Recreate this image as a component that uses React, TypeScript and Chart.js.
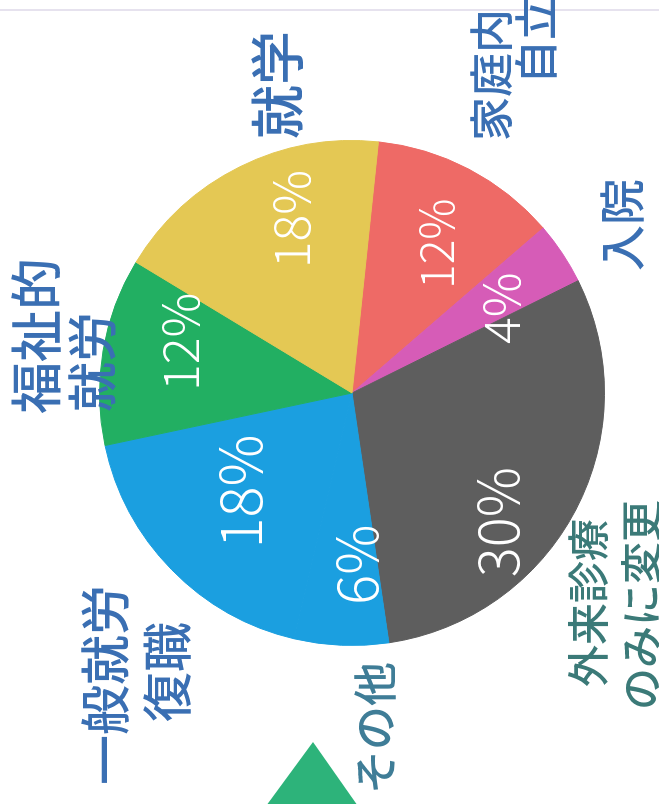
import React, { useEffect, useRef } from "react";
import { Chart, ArcElement, PieController } from "chart.js";

Chart.register(ArcElement, PieController);

// ---- data ----
const categories = ["家庭内自立", "入院", "外来診療のみに変更", "その他", "一般就労・復職", "福祉的就労", "就学"];
const shares = [12, 4, 30, 6, 18, 12, 18];
const sliceColors = ["#EE6A66", "#D65CB7", "#5E5E5E", "#1B9FE0", "#1B9FE0", "#22AF62", "#E4C854"];
const labelLines = [["家庭内", "自立"], ["入院"], ["外来診療", "のみに変更"], ["その他"], ["一般就労", "復職"], ["福祉的", "就労"], ["就学"]];

// ---- layout (unrotated canvas coordinates) ----
const W = 804;
const H = 659;
const startRotation = 96;
const pctNudgeDeg = [2, 4, 14, -4, 3, 7, 7];
const pctRadiusFrac = [0.68, 0.68, 0.77, 0.68, 0.59, 0.71, 0.73];
const pctFontSize = [46, 50, 56, 56, 58, 50, 50];
const labelPos = [
  [[729, 491, 44], [764, 536, 44]],
  [[579, 622, 46]],
  [[201, 588, 42], [199, 641, 42]],
  [[76, 375, 44]],
  [[119, 105, 50], [132, 167, 50]],
  [[468, 36, 52], [442, 92, 50]],
  [[719, 277, 54]],
];
const labelColors = ["#3A6FB3", "#3A6FB3", "#3B7A78", "#3F7D97", "#3A6FB3", "#3A6FB3", "#3A6FB3"];

const decorPlugin = {
  id: "decor",
  beforeDraw(chart: any) {
    const ctx = chart.ctx;
    ctx.save();
    ctx.fillStyle = "#ffffff";
    ctx.fillRect(0, 0, W, H);
    ctx.strokeStyle = "#E6E2EE";
    ctx.lineWidth = 2;
    ctx.beginPath();
    ctx.moveTo(W - 10, 0);
    ctx.lineTo(W - 10, H);
    ctx.stroke();
    // green decorative triangle
    ctx.fillStyle = "#2DB37A";
    ctx.beginPath();
    ctx.moveTo(62, 313);
    ctx.lineTo(-2, 266);
    ctx.lineTo(-2, 358);
    ctx.closePath();
    ctx.fill();
    ctx.restore();
  },
};

const labelPlugin = {
  id: "labels",
  afterDatasetsDraw(chart: any) {
    const ctx = chart.ctx;
    const meta = chart.getDatasetMeta(0);
    ctx.save();
    ctx.textAlign = "center";
    ctx.textBaseline = "middle";
    meta.data.forEach((arc: any, i: number) => {
      const p = arc.getProps(["x", "y", "startAngle", "endAngle", "outerRadius"], true);
      const mid = (p.startAngle + p.endAngle) / 2 + (pctNudgeDeg[i] * Math.PI) / 180;
      const r = p.outerRadius * pctRadiusFrac[i];
      ctx.fillStyle = "#ffffff";
      ctx.font = `300 ${pctFontSize[i]}px "Noto Sans CJK JP", "Open Sans", sans-serif`;
      ctx.fillText(`${shares[i]}%`, p.x + Math.cos(mid) * r, p.y + Math.sin(mid) * r);
    });
    labelLines.forEach((lines, i) => {
      lines.forEach((t, j) => {
        const [u, v, fs] = labelPos[i][j];
        ctx.fillStyle = labelColors[i];
        ctx.font = `500 ${fs}px "Noto Sans CJK JP", sans-serif`;
        ctx.fillText(t, u, v);
      });
    });
    ctx.restore();
  },
};

export default function App() {
  const ref = useRef<HTMLCanvasElement | null>(null);
  useEffect(() => {
    document.body.style.margin = "0";
    const canvas = ref.current!;
    const chart = new Chart(canvas, {
      type: "pie",
      data: {
        labels: categories,
        datasets: [
          {
            data: shares,
            backgroundColor: sliceColors,
            borderColor: sliceColors,
            borderWidth: 1,
          },
        ],
      },
      options: {
        responsive: false,
        animation: false,
        devicePixelRatio: 1,
        rotation: startRotation,
        layout: { padding: { left: 158, right: 140, top: 99, bottom: 54 } },
        plugins: { legend: { display: false }, tooltip: { enabled: false } },
        events: [],
      },
      plugins: [decorPlugin, labelPlugin],
    });
    return () => chart.destroy();
  }, []);
  return (
    <div style={{ position: "absolute", left: 0, top: 0, width: 659, height: 804, overflow: "hidden", background: "#fff" }}>
      <canvas
        ref={ref}
        width={W}
        height={H}
        style={{
          position: "absolute",
          left: 0,
          top: 0,
          width: W,
          height: H,
          transformOrigin: "0 0",
          transform: `translateY(${W}px) rotate(-90deg)`,
        }}
      />
    </div>
  );
}
